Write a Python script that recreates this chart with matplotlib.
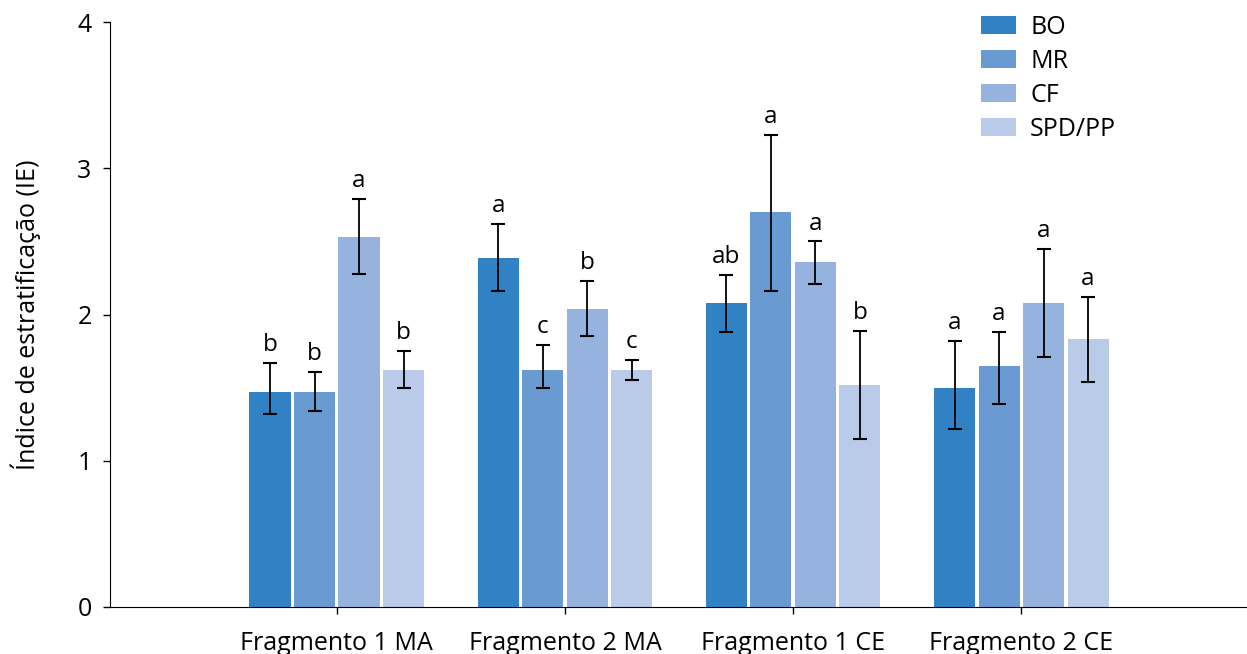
import matplotlib
matplotlib.use("Agg")
import matplotlib.pyplot as plt
import numpy as np

plt.rcParams["font.family"] = ["Open Sans", "DejaVu Sans"]

groups = ["Fragmento 1 MA", "Fragmento 2 MA", "Fragmento 1 CE", "Fragmento 2 CE"]
series = ["BO", "MR", "CF", "SPD/PP"]
colors = ["#3182c4", "#699bd2", "#95b3de", "#b9cbe9"]

# mean values per series (rows) across groups (columns)
means = [
    [1.47, 2.39, 2.08, 1.50],
    [1.47, 1.62, 2.70, 1.65],
    [2.53, 2.04, 2.36, 2.08],
    [1.62, 1.62, 1.52, 1.83],
]
err_low = [
    [1.32, 2.16, 1.88, 1.22],
    [1.34, 1.50, 2.16, 1.39],
    [2.28, 1.85, 2.21, 1.71],
    [1.50, 1.55, 1.15, 1.54],
]
err_high = [
    [1.67, 2.62, 2.27, 1.82],
    [1.61, 1.79, 3.23, 1.88],
    [2.79, 2.23, 2.50, 2.45],
    [1.75, 1.69, 1.89, 2.12],
]
letters = [
    ["b", "a", "ab", "a"],
    ["b", "c", "a", "a"],
    ["a", "b", "a", "a"],
    ["b", "c", "b", "a"],
]

fig = plt.figure(figsize=(12.47, 6.54), dpi=100)
ax = fig.add_axes([0.088, 0.072, 0.914, 0.894])

x = np.arange(len(groups))
width = 0.18
step = 0.195

for i, name in enumerate(series):
    m = np.array(means[i])
    lo = m - np.array(err_low[i])
    hi = np.array(err_high[i]) - m
    pos = x + (i - 1.5) * step
    ax.bar(pos, m, width, color=colors[i], label=name, zorder=2)
    ax.errorbar(pos, m, yerr=[lo, hi], fmt="none", ecolor="black",
                elinewidth=1.3, capsize=5, capthick=1.5, zorder=3)
    for px, top, lab in zip(pos, err_high[i], letters[i]):
        ax.text(px, top + 0.04, lab, ha="center", va="bottom", fontsize=17.5)

ax.set_xlim(-0.995, 4.0)
ax.set_ylim(0, 4)
ax.set_yticks([0, 1, 2, 3, 4])
ax.set_xticks(x, groups)
ax.tick_params(axis="both", labelsize=18, width=1, length=5)
ax.tick_params(axis="x", pad=12)
ax.tick_params(axis="y", pad=8)
ax.spines["top"].set_visible(False)
ax.spines["right"].set_visible(False)
ax.set_ylabel("Índice de estratificação (IE)", fontsize=18, labelpad=26)

ax.legend(loc="upper left", bbox_to_anchor=(0.769, 1.012), frameon=False,
          fontsize=18, handlelength=1.4, handleheight=0.75, labelspacing=0.36,
          handletextpad=0.55, bbox_transform=fig.transFigure)

fig.savefig("out.png", dpi=100)
